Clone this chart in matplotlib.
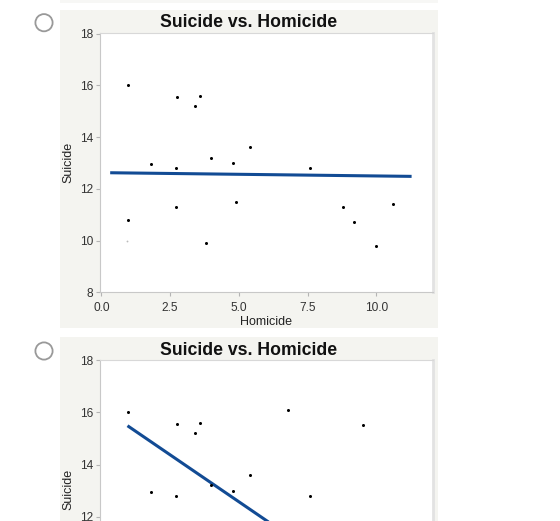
import matplotlib
matplotlib.use("Agg")
import matplotlib.pyplot as plt
from matplotlib.patches import Rectangle, Circle

plt.rcParams['font.family'] = ['Liberation Sans', 'DejaVu Sans']

# ---- data ----
title_text = "Suicide vs. Homicide"
x_label = "Homicide"
y_label = "Suicide"
x_ticks = [0.0, 2.5, 5.0, 7.5, 10.0]
x_tick_labels = ["0.0", "2.5", "5.0", "7.5", "10.0"]
y_ticks = [8, 10, 12, 14, 16, 18]
y_ticks_visible_b = [12, 14, 16, 18]

# option A
homicide_a = [0.95, 2.75, 3.4, 3.6, 5.4, 4.0, 1.8, 2.7, 4.8, 7.6, 0.95, 2.7, 4.9, 3.8, 8.8, 9.2, 10.6, 10.0]
suicide_a = [16.0, 15.55, 15.2, 15.6, 13.6, 13.2, 12.95, 12.8, 13.0, 12.8, 10.8, 11.3, 11.5, 9.9, 11.3, 10.7, 11.4, 9.8]
faint_x_a = [0.92]
faint_y_a = [10.0]
fit_x_a = [0.32, 11.28]
fit_y_a = [12.62, 12.48]

# option B (only the visible part)
homicide_b = [0.95, 2.75, 3.4, 3.6, 5.4, 4.0, 1.8, 2.7, 4.8, 7.6, 6.8, 9.5]
suicide_b = [16.0, 15.55, 15.2, 15.6, 13.6, 13.2, 12.95, 12.8, 13.0, 12.8, 16.1, 15.5]
fit_x_b = [0.95, 11.28]
fit_y_b = [15.49, 8.05]

W, H = 560, 521
fig = plt.figure(figsize=(W / 100, H / 100), dpi=100)
fig.patch.set_facecolor("white")

def px_box(l, t, r, b):
    return [l / W, 1 - b / H, (r - l) / W, (b - t) / H]

# background layer
bg = fig.add_axes([0, 0, 1, 1], zorder=0)
bg.set_xlim(0, W)
bg.set_ylim(H, 0)
bg.axis("off")
panel_col = "#f4f4f0"
bg.add_patch(Rectangle((60, -5), 377.7, 7.5, facecolor="#f7f7f5", edgecolor="none"))
bg.add_patch(Rectangle((60, 10), 377.7, 317.7, facecolor=panel_col, edgecolor="none"))
bg.add_patch(Rectangle((60, 336.7), 377.7, 200, facecolor=panel_col, edgecolor="none"))
for cy in (22.7, 351.0):
    bg.add_patch(Circle((44, cy), 8.6, facecolor="white", edgecolor="#999999", linewidth=1.3))

line_col = "#124b94"

def make_axes(box, ylim_top, yt, show_x_labels=True):
    ax = fig.add_axes(box, zorder=1)
    ax.set_facecolor("white")
    ax.set_xlim(-0.05, 12.04)
    ax.set_ylim(8, ylim_top)
    ax.set_xticks(x_ticks)
    if show_x_labels:
        ax.set_xticklabels(x_tick_labels)
    else:
        ax.set_xticklabels([])
    ax.set_yticks(yt)
    ax.tick_params(direction="out", length=3, width=0.8, color="#b4b4b4",
                   labelsize=8.6, labelcolor="#333333", pad=2)
    ax.tick_params(axis="x", pad=4)
    for s in ("left", "bottom"):
        ax.spines[s].set_color("#c8c8c8")
        ax.spines[s].set_linewidth(0.8)
    ax.spines["top"].set_color("#d8d8d8")
    ax.spines["top"].set_linewidth(0.8)
    ax.spines["right"].set_color("#e2e2e2")
    ax.spines["right"].set_linewidth(2.0)
    return ax

# ---- top chart ----
ax1 = make_axes(px_box(100, 32.5, 432.5, 292.3), 18.04, y_ticks)
ax1.plot(fit_x_a, fit_y_a, color=line_col, linewidth=2.2, solid_capstyle="butt", zorder=2)
ax1.plot(homicide_a, suicide_a, linestyle="none", marker="o", markersize=2.2,
         color="black", markeredgewidth=0, zorder=3)
ax1.plot(faint_x_a, faint_y_a, linestyle="none", marker="o", markersize=1.3,
         color="#bbbbbb", markeredgewidth=0, zorder=3)

fig.text(249 / W, 1 - 27.3 / H, title_text, ha="center", va="baseline",
         fontsize=12.7, fontweight="bold", color="#111111")
fig.text(266 / W, 1 - 325 / H, x_label, ha="center", va="baseline",
         fontsize=9, color="#222222")
fig.text(68.7 / W, 1 - 162.4 / H, y_label, ha="center", va="center",
         rotation=90, fontsize=9, color="#222222")

# ---- bottom chart (cut off by the figure edge) ----
ax2 = make_axes(px_box(100, 359.5, 432.5, 621), 18.03, y_ticks_visible_b, show_x_labels=False)
ax2.plot(fit_x_b, fit_y_b, color=line_col, linewidth=2.2, solid_capstyle="butt", zorder=2)
ax2.plot(homicide_b, suicide_b, linestyle="none", marker="o", markersize=2.2,
         color="black", markeredgewidth=0, zorder=3)

fig.text(249 / W, 1 - 355 / H, title_text, ha="center", va="baseline",
         fontsize=12.7, fontweight="bold", color="#111111")
fig.text(68.7 / W, 1 - 489 / H, y_label, ha="center", va="center",
         rotation=90, fontsize=9, color="#222222")

fig.savefig("out.png", dpi=100)
